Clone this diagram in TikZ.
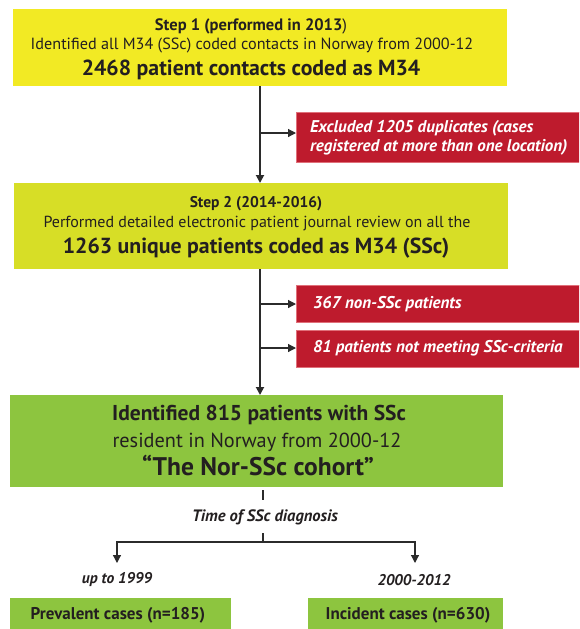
\documentclass[tikz,border=0pt]{standalone}
\usepackage{fontspec}
\setmainfont{PT Sans}
\usetikzlibrary{arrows.meta}
\definecolor{yelA}{HTML}{F2EA24}
\definecolor{yelB}{HTML}{D7DE26}
\definecolor{redbox}{HTML}{BE1B2D}
\definecolor{rededge}{HTML}{E0707A}
\definecolor{grn}{HTML}{8DC53F}
\definecolor{ink}{HTML}{231F20}
\definecolor{wire}{HTML}{2B2B2B}
\tikzset{
  ybox/.style={inner sep=0pt, outer sep=0pt, anchor=north west},
  rbox/.style={fill=redbox, draw=rededge, line width=0.6pt, inner sep=0pt, outer sep=0pt,
    anchor=north west, text=white, font=\bfseries\itshape\fontsize{17}{19}\selectfont},
  wirel/.style={draw=wire, line width=1.5pt},
  arr/.style={wirel, -{Triangle[length=8pt,width=8pt]}},
  lbl/.style={font=\bfseries\itshape\fontsize{15.5}{18}\selectfont, text=ink, inner sep=0pt},
}
\begin{document}
\begin{tikzpicture}[x=1pt,y=-1pt]
\useasboundingbox (0,0) rectangle (579,629);
\clip (0,0) rectangle (579,629);
% boxes
\node[ybox, fill=yelA, minimum width=494pt, minimum height=77pt] (b1) at (13,9) {};
\node[ybox, fill=yelB, minimum width=494pt, minimum height=86pt] (b2) at (14,183) {};
\node[ybox, fill=grn, minimum width=493pt, minimum height=92pt] (g) at (10,395) {};
\node[ybox, fill=grn, minimum width=221pt, minimum height=40pt] (pv) at (10,598) {};
\node[ybox, fill=grn, minimum width=195pt, minimum height=40pt] (ic) at (308,598) {};
% texts box 1
\node[text=ink, font=\fontsize{16.5}{19}\selectfont] (t11) at (251,26) {\textbf{Step 1 (performed in 2013}{)}};
\node[text=ink, font=\fontsize{16.2}{19}\selectfont] (t12) at (252,46) {Identified all M34 (SSc) coded contacts in Norway from 2000-12};
\node[text=ink, font=\bfseries\fontsize{21.8}{26}\selectfont] (t13) at (251,70) {2468 patient contacts coded as M34};
% texts box 2
\node[text=ink, font=\bfseries\fontsize{15.5}{18}\selectfont] (t21) at (256,204) {Step 2 (2014-2016)};
\node[text=ink, font=\fontsize{16}{19}\selectfont] (t22) at (257,224) {Performed detailed electronic patient journal review on all the};
\node[text=ink, font=\bfseries\fontsize{21.8}{26}\selectfont] (t23) at (256,248) {1263 unique patients coded as M34 (SSc)};
% green texts
\node[text=ink, font=\bfseries\fontsize{21.5}{25}\selectfont] (g1) at (259,415) {Identified 815 patients with SSc};
\node[text=ink, font=\fontsize{20.3}{24}\selectfont] (g2) at (257,442) {resident in Norway from 2000-12};
\node[text=ink, font=\bfseries\fontsize{25.5}{30}\selectfont] (g3) at (258,465) {“The Nor-SSc cohort”};
\node[text=ink, font=\bfseries\fontsize{17}{20}\selectfont] (pvt) at (118,615) {Prevalent cases (n=185)};
\node[text=ink, font=\bfseries\fontsize{17}{20}\selectfont] (ict) at (408,615) {Incident cases (n=630)};
% red boxes
\node[rbox, minimum width=300pt, minimum height=50pt] (r1) at (296,112) {};
\node[rbox, anchor=north west, fill=none, draw=none, align=left] (r1t) at (310,120) {Excluded 1205 duplicates (cases\\registered at more than one location)};
\node[rbox, minimum width=300pt, minimum height=37pt] (r2) at (296,285) {};
\node[rbox, anchor=west, fill=none, draw=none] (r2t) at (313,304) {367 non-SSc patients};
\node[rbox, minimum width=300pt, minimum height=37pt] (r3) at (296,330) {};
\node[rbox, anchor=west, fill=none, draw=none] (r3t) at (313,348) {81 patients not meeting SSc-criteria};
% main connectors
\coordinate (m1) at (260,86);
\coordinate (m2) at (260,183);
\coordinate (m3) at (260,269);
\coordinate (m4) at (260,395);
\draw[arr, line width=1.8pt] (m1) -- (m2);
\draw[arr, line width=1.8pt] (m3) -- (m4);
\coordinate (j1) at (260,133);
\coordinate (j2) at (260,304);
\coordinate (j3) at (260,348);
\draw[arr, line width=1.2pt] (j1) -- (j1 -| r1.west);
\draw[arr, line width=1.2pt] (j2) -- (j2 -| r2.west);
\draw[arr, line width=1.2pt] (j3) -- (j3 -| r3.west);
% diagnosis split
\node[lbl, font=\bfseries\itshape\fontsize{16.5}{19}\selectfont] (tm) at (265,517) {Time of SSc diagnosis};
\coordinate (s0) at (263,490);
\coordinate (s1) at (263,500);
\coordinate (s2) at (263,533);
\coordinate (sp) at (263,542);
\draw[wirel, line width=1.2pt] (s0) -- (s1);
\draw[wirel, line width=1.2pt] (s2) -- (sp);
\coordinate (aL) at (117,563);
\coordinate (aR) at (415,563);
\draw[arr, line width=1.2pt] (sp) -| (aL);
\draw[arr, line width=1.2pt] (sp) -| (aR);
\node[lbl] (uL) at (117,580) {up to 1999};
\node[lbl] (uR) at (414,580) {2000-2012};
\end{tikzpicture}
\end{document}
